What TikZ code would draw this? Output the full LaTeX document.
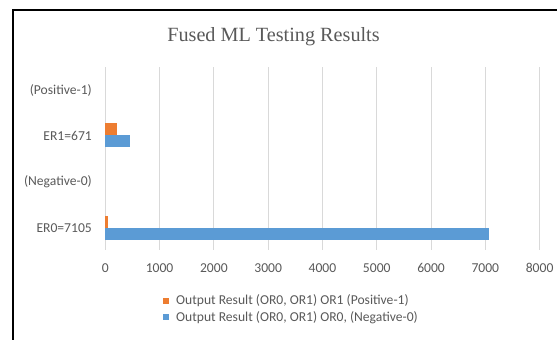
\documentclass[tikz,border=0pt]{standalone}
\usepackage{fontspec}
\setmainfont{Liberation Serif}
\newfontfamily\calib{Carlito}
\usepackage{tikz}
\tikzset{>=latex}
\definecolor{barorange}{HTML}{ED7D31}
\definecolor{barblue}{HTML}{5B9BD5}
\definecolor{gridgray}{HTML}{D9D9D9}
\definecolor{labelgray}{HTML}{595959}
\tikzset{
    charttitle/.style={font=\fontsize{20.2}{24}\selectfont, text=labelgray, inner sep=0pt},
    ticklabel/.style={font=\calib\fontsize{13.6}{16}\selectfont, text=labelgray, inner sep=0pt},
    gridline/.style={gridgray, line width=0.9pt},
}

\begin{document}
\begin{tikzpicture}[x=1pt, y=-1pt]
    \useasboundingbox (0, 0) rectangle (557, 340);
    \draw[line width=1.6pt] (557, 10) -- (13, 10) -- (13, 340);
    \node[charttitle] (title) at (273.5, 37) {Fused ML Testing Results};
    \foreach \tick/\val in {0/0, 1/1000, 2/2000, 3/3000, 4/4000, 5/5000, 6/6000, 7/7000, 8/8000} {
        \draw[gridline] (105.3+54.29*\tick, 67) -- (105.3+54.29*\tick, 250);
        \node[ticklabel] (tick \tick) at (105.3+54.29*\tick, 268) {\val};
    }
    \foreach \cat/\y/\name in {pos/90/(Positive-1), er1/136/ER1=671, neg/182/(Negative-0), er0/228/ER0=7105} {
        \node[ticklabel, anchor=east] (cat \cat) at (92, \y) {\name};
    }
    \fill[barorange] (105.3, 123) rectangle ++(220*0.05429, 12.2);
    \fill[barblue] (105.3, 135.2) rectangle ++(451*0.05429, 12.2);
    \fill[barorange] (105.3, 215.5) rectangle ++(42*0.05429, 12.3);
    \fill[barblue] (105.3, 227.8) rectangle ++(7063*0.05429, 12.4);
    \fill[barorange] (162.5, 297.7) rectangle ++(6, 6);
    \node[ticklabel, anchor=west] (key orange) at (176, 300.7) {Output Result (OR0, OR1) OR1 (Positive-1)};
    \fill[barblue] (162.5, 314.3) rectangle ++(6, 6);
    \node[ticklabel, anchor=west] (key blue) at (176, 317.3) {Output Result (OR0, OR1) OR0, (Negative-0)};
\end{tikzpicture}
\end{document}
